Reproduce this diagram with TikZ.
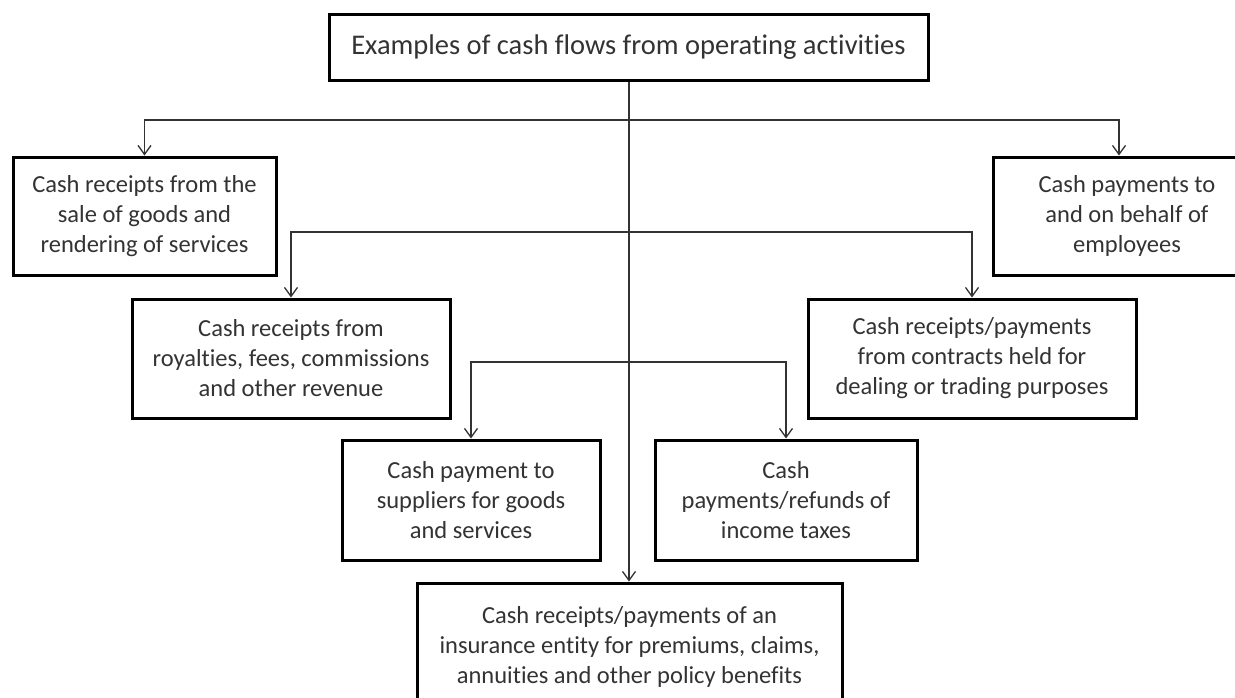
\documentclass[tikz,border=0pt]{standalone}
\usepackage{fontspec}
\setmainfont{Carlito}[Ligatures=NoCommon]
\usetikzlibrary{arrows.meta}
\begin{document}
\begin{tikzpicture}[x=1pt,y=-1pt,
  box/.style={draw=black, line width=3pt, fill=white, inner sep=0pt, align=center,
              text=black!80, font=\fontsize{24.5}{30}\selectfont},
  link/.style={draw=black!80, line width=1.3pt},
  arrowlink/.style={link, -{Straight Barb[length=9pt,width=13pt]}}]
\useasboundingbox (0,0) rectangle (1235,697);
\clip (0,0) rectangle (1235,697);
\fill[white] (0,0) rectangle (1235,697);

% heading
\node[box, minimum width=599, minimum height=66, font=\fontsize{28.5}{34}\selectfont]
  (top) at (628.5,47) {Examples of cash flows from operating activities};

% first row
\node[box, minimum width=263, minimum height=118] (sale) at (144.5,216)
  {Cash receipts from the\\sale of goods and\\rendering of services};
\node[box, minimum width=268, minimum height=118] (staff) at (1127,216)
  {Cash payments to\\and on behalf of\\employees};

% second row
\node[box, minimum width=318, minimum height=119] (fees) at (291,358.5)
  {Cash receipts from\\royalties, fees, commissions\\and other revenue};
\node[box, minimum width=328, minimum height=119] (trade) at (972,358.5)
  {Cash receipts/payments\\from contracts held for\\dealing or trading purposes};

% third row
\node[box, minimum width=258, minimum height=120] (suppl) at (471,500)
  {Cash payment to\\suppliers for goods\\and services};
\node[box, minimum width=262, minimum height=120] (taxes) at (786,500)
  {Cash\\payments/refunds of\\income taxes};

% bottom
\node[box, minimum width=425, minimum height=128] (insur) at (629.5,647)
  {Cash receipts/payments of an\\insurance entity for premiums, claims,\\annuities and other policy benefits};

% branch points on the trunk
\coordinate (j1) at (629,120);
\coordinate (j2) at (629,232);
\coordinate (j3) at (629,362);

% trunk
\draw[arrowlink] (top.south -| j1) -- (insur.north -| j1);

% branches
\draw[arrowlink] (j1) -| (sale.north);
\draw[arrowlink] (j1) -| ([xshift=-8pt]staff.north);
\draw[arrowlink] (j2) -| (fees.north);
\draw[arrowlink] (j2) -| (trade.north);
\draw[arrowlink] (j3) -| (suppl.north);
\draw[arrowlink] (j3) -| (taxes.north);
\end{tikzpicture}
\end{document}
